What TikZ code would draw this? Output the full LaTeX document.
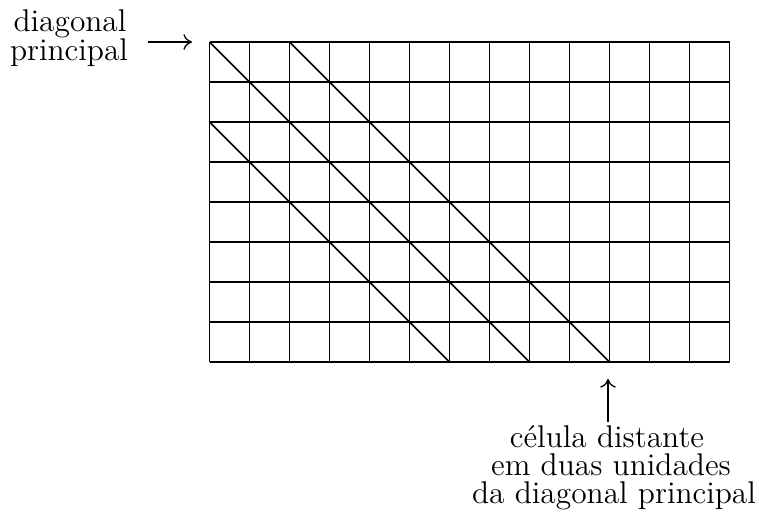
\documentclass[tikz,border=0pt]{standalone}
\usetikzlibrary{arrows.meta}
\begin{document}
\begin{tikzpicture}[x=0.35pt,y=-0.35pt,
  gridline/.style={line width=0.6pt},
  diagline/.style={line width=0.6pt},
  lbl/.style={font=\fontsize{11}{11}\selectfont, anchor=base, inner sep=0pt},
  pointer/.style={line width=0.45pt, -{To[length=3pt,width=5.5pt]}}]
\useasboundingbox (0,0) rectangle (759,519);
% grid 13 x 8 cells of 40 units
\foreach \i in {0,...,13} \draw[gridline] (209.5+40*\i,42) -- ++(0,320);
\foreach \j in {0,...,8} \draw[gridline] (209.5,42+40*\j) -- ++(520,0);
% diagonals
\coordinate (g00) at (209.5,42);
\coordinate (g88) at (529.5,362);
\coordinate (g20) at (289.5,42);
\coordinate (g108) at (609.5,362);
\coordinate (g02) at (209.5,122);
\coordinate (g68) at (449.5,362);
\draw[diagline] (g00) -- (g88);
\draw[diagline] (g20) -- (g108);
\draw[diagline] (g02) -- (g68);
% left label
\node[lbl] (d1) at (70,32) {diagonal};
\node[lbl] (d2) at (69,61) {principal};
\coordinate (a1s) at (148,42);
\coordinate (a1e) at (192,42);
\draw[pointer] (a1s) -- (a1e);
% bottom label
\coordinate (a2s) at (608,422);
\coordinate (a2e) at (608,379);
\draw[pointer] (a2s) -- (a2e);
\node[lbl] (b1) at (607,448) {célula distante};
\node[lbl] (b2) at (611,476) {em duas unidades};
\node[lbl] (b3) at (614,504) {da diagonal principal};
\end{tikzpicture}
\end{document}
